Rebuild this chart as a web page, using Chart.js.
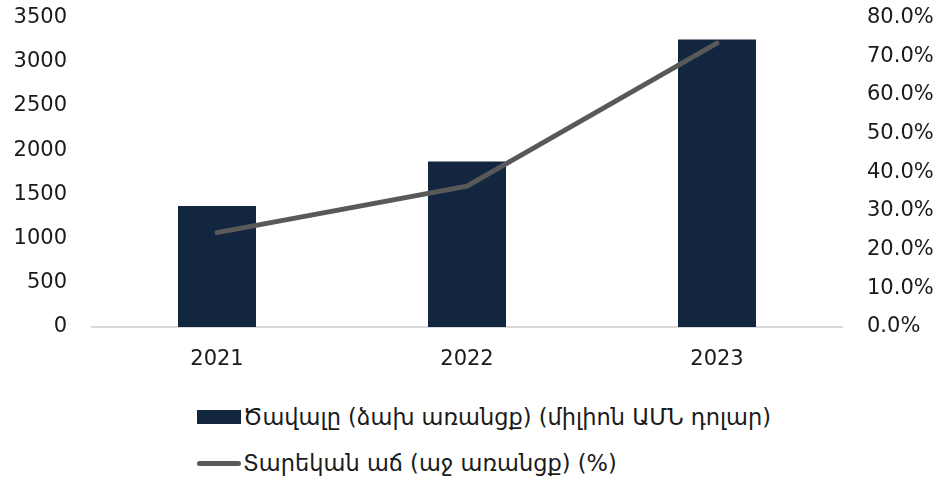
<!DOCTYPE html>
<html>
<head>
<meta charset="utf-8">
<script src="https://cdn.jsdelivr.net/npm/chart.js@4"></script>
<style>
  html, body { margin: 0; padding: 0; background: #fff; overflow: hidden; }
  #wrap { position: relative; width: 936px; height: 483px; overflow: hidden; }
  #chartBox { position: absolute; left: 0; top: -20px; width: 936px; height: 400px; }
  #legend { position: absolute; left: 197px; top: 394px; font-family: "DejaVu Sans", sans-serif; font-size: 22.5px; color: #1a1a1a; }
  .item { display: flex; align-items: center; height: 46px; }
  .mark { width: 44px; margin-right: 2px; flex: none; }
</style>
</head>
<body>
<div id="wrap">
  <div id="chartBox"><canvas id="growthChart"></canvas></div>
  <div id="legend"></div>
</div>
<script>
var years = ['2021', '2022', '2023'];
var volume = [1370, 1873, 3253];
var growth = [24.4, 36.4, 73.4];
var seriesNames = ['Ծավալը (ձախ առանցք) (միլիոն ԱՄՆ դոլար)', 'Տարեկան աճ (աջ առանցք) (%)'];
var barColor = '#13263f';
var lineColor = '#595959';

var tickFont = { family: 'DejaVu Sans', size: 21 };

var ctx = document.getElementById('growthChart').getContext('2d');
var chart = new Chart(ctx, {
    type: 'bar',
    data: {
        labels: years,
        datasets: [{
            type: 'line',
            label: seriesNames[1],
            data: growth,
            yAxisID: 'y1',
            borderColor: lineColor,
            borderWidth: 5,
            borderCapStyle: 'round',
            pointRadius: 0,
            tension: 0,
            order: 1
        }, {
            label: seriesNames[0],
            data: volume,
            yAxisID: 'y',
            backgroundColor: barColor,
            categoryPercentage: 1,
            barPercentage: 0.312,
            order: 2
        }]
    },
    options: {
        responsive: true,
        maintainAspectRatio: false,
        animation: false,
        layout: { padding: 0 },
        plugins: {
            legend: { display: false },
            tooltip: { enabled: false }
        },
        scales: {
            x: {
                grid: { display: false, drawTicks: false },
                border: { color: '#d9d9d9', width: 2 },
                ticks: { color: '#1a1a1a', font: tickFont, padding: 20 },
                afterFit: function (s) { s.height = 53; }
            },
            y: {
                position: 'left',
                min: 0,
                max: 3500,
                grid: { display: false, drawTicks: false },
                border: { display: false },
                ticks: {
                    stepSize: 500,
                    color: '#1a1a1a',
                    font: tickFont,
                    padding: 25,
                    callback: function (v) { return String(v); }
                },
                afterFit: function (s) { s.width = 92; }
            },
            y1: {
                position: 'right',
                min: 0,
                max: 80,
                grid: { display: false, drawTicks: false },
                border: { display: false },
                ticks: {
                    stepSize: 10,
                    color: '#1a1a1a',
                    font: tickFont,
                    padding: 25,
                    callback: function (v) { return v.toFixed(1) + '%'; }
                },
                afterFit: function (s) { s.width = 94; }
            }
        }
    }
});

// stacked legend, bar first then line
var legend = document.getElementById('legend');
[1, 0].forEach(function (i) {
    var ds = chart.data.datasets[i];
    var item = document.createElement('div');
    item.className = 'item';
    var mark = document.createElement('div');
    mark.className = 'mark';
    if (ds.type === 'line') {
        mark.style.height = '5px';
        mark.style.borderRadius = '3px';
        mark.style.background = ds.borderColor;
    } else {
        mark.style.height = '14px';
        mark.style.background = ds.backgroundColor;
    }
    var txt = document.createElement('span');
    txt.textContent = ds.label;
    item.appendChild(mark);
    item.appendChild(txt);
    legend.appendChild(item);
});
</script>
</body>
</html>
